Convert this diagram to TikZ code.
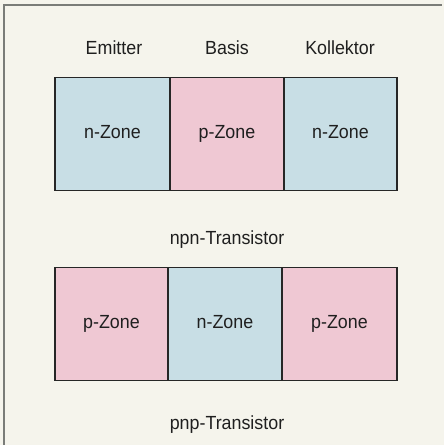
\documentclass[tikz,border=0pt]{standalone}
\usepackage{fontspec}
\setmainfont{Liberation Sans}[FakeStretch=0.94]
\begin{document}
\begin{tikzpicture}[x=1pt,y=-1pt,
  txt/.style={font=\fontsize{19}{21}\selectfont,text=black!88,text height=13.5pt,text depth=4pt},
  zone/.style={txt,draw=black!85,line width=1.2pt,minimum height=113pt,inner sep=0pt},
  nzone/.style={zone,fill=nblue},
  pzone/.style={zone,fill=ppink},
  lbl/.style={txt,inner sep=0pt}]
\definecolor{paper}{HTML}{F5F4EC}
\definecolor{nblue}{HTML}{C8DEE5}
\definecolor{ppink}{HTML}{EFC8D3}
\definecolor{framegray}{HTML}{7A7C78}
\useasboundingbox (0,0) rectangle (444,445);
\fill[paper] (0,0) rectangle (444,445);
% open frame: top and left edges only
\coordinate (fl) at (4,445);
\coordinate (ftl) at (4,5);
\coordinate (ftr) at (442,5);
\draw[framegray,line width=1.3pt] (fl) -- (ftl) -- (ftr);

% npn transistor
\node[lbl] (em) at (114,50) {Emitter};
\node[lbl] (ba) at (227,50) {Basis};
\node[lbl] (ko) at (340,50) {Kollektor};
\node[nzone,minimum width=115pt] (n1) at (112.5,134) {n-Zone};
\node[pzone,minimum width=114pt] (p1) at (227,134) {p-Zone};
\node[nzone,minimum width=113pt] (n2) at (340.5,134) {n-Zone};
\node[lbl] (npn) at (227,240) {npn-Transistor};

% pnp transistor
\node[pzone,minimum width=113pt] (p2) at (111.5,324) {p-Zone};
\node[nzone,minimum width=114pt] (n3) at (225,324) {n-Zone};
\node[pzone,minimum width=115pt] (p3) at (339.5,324) {p-Zone};
\node[lbl] (pnp) at (227,425) {pnp-Transistor};
\end{tikzpicture}
\end{document}
